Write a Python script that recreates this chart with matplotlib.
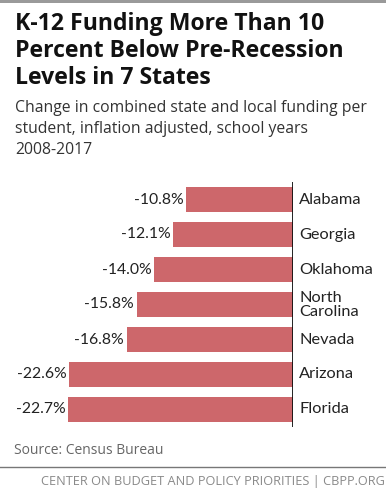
import matplotlib
matplotlib.use("Agg")
import matplotlib.pyplot as plt
from matplotlib.patches import Rectangle
from matplotlib.lines import Line2D

states = ["Alabama", "Georgia", "Oklahoma", "North\nCarolina", "Nevada", "Arizona", "Florida"]
values = [-10.8, -12.1, -14.0, -15.8, -16.8, -22.6, -22.7]
value_labels = ["-10.8%", "-12.1%", "-14.0%", "-15.8%", "-16.8%", "-22.6%", "-22.7%"]

W, H = 386, 496
fig = plt.figure(figsize=(W / 100, H / 100), dpi=100)
plt.rcParams['font.family'] = ['Lato', 'DejaVu Sans']
WIDE = ['Open Sans', 'DejaVu Sans']

def fx(px):
    return px / W

def fy(py):
    return 1 - py / H

# top gray band
fig.add_artist(Rectangle((0, fy(3)), 1, 3 / H, transform=fig.transFigure,
                         color="#9a9a9a", lw=0))

title = ["K-12 Funding More Than 10", "Percent Below Pre-Recession", "Levels in 7 States"]
for i, s in enumerate(title):
    fig.text(fx(15), fy(24.5 + 26.8 * i), s, family=WIDE,
             fontsize=16.6, fontweight="bold", color="#111111", va="center", ha="left")

sub = ["Change in combined state and local funding per",
       "student, inflation adjusted, school years",
       "2008-2017"]
for i, s in enumerate(sub):
    fig.text(fx(15), fy(108.5 + 20.5 * i), s, family=WIDE,
             fontsize=11.3, color="#333333", va="center", ha="left")

ax = fig.add_axes([0, fy(427), fx(293), (427 - 182) / H])
ax.set_xlim(-293 / 9.9, 0)
ax.set_ylim(6.5, -0.5)
ypos = list(range(len(states)))
ax.barh(ypos, values, height=0.72, color="#cd676b", edgecolor="none")
ax.axvline(0, color="#111111", lw=1.3)
for y, v, lab, st in zip(ypos, values, value_labels, states):
    ax.text(v - 0.25, y, lab, ha="right", va="center", fontsize=11.3, color="#222222")
    ax.text(0.65, y, st, ha="left", va="center", fontsize=11.8, color="#222222",
            linespacing=1.0, clip_on=False)
ax.axis("off")

fig.text(fx(14), fy(450), "Source: Census Bureau", family=WIDE, fontsize=10.0, color="#666666",
         va="center", ha="left")
fig.add_artist(Line2D([0, 1], [fy(467), fy(467)], transform=fig.transFigure,
                      color="#777777", lw=1))
fig.text(fx(385), fy(481), "CENTER ON BUDGET AND POLICY PRIORITIES | CBPP.ORG", family=WIDE,
         fontsize=9.2, color="#8a8a8a", va="center", ha="right")

fig.savefig("out.png", dpi=100)
